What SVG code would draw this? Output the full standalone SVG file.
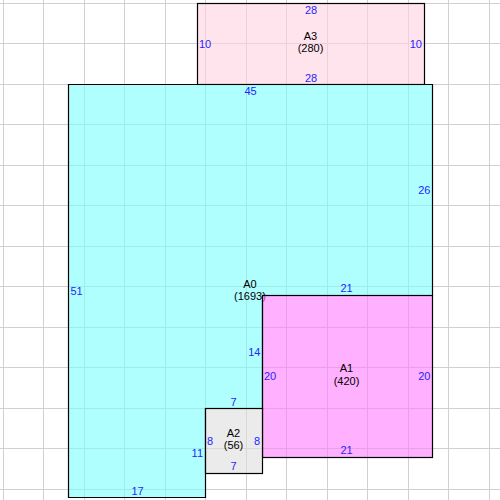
<svg xmlns="http://www.w3.org/2000/svg" width="500" height="500" viewBox="0 0 500 500">
<style>
.grid line{stroke:#d0d0d0;stroke-width:1}
.shape{stroke:#000;stroke-width:1.2;fill-opacity:0.6}
text{font-family:"Liberation Sans",Arial,sans-serif;font-size:11px}
.dim{fill:#2424ff}
.name{fill:#000;text-anchor:middle}
.c{text-anchor:middle}
.e{text-anchor:end}
</style>
<rect x="0" y="0" width="500" height="500" fill="#fff"/>
<g class="grid">
<line x1="3.5" y1="0" x2="3.5" y2="500"/><line x1="43.5" y1="0" x2="43.5" y2="500"/><line x1="84.5" y1="0" x2="84.5" y2="500"/><line x1="124.5" y1="0" x2="124.5" y2="500"/><line x1="165.5" y1="0" x2="165.5" y2="500"/><line x1="205.5" y1="0" x2="205.5" y2="500"/><line x1="246.5" y1="0" x2="246.5" y2="500"/><line x1="286.5" y1="0" x2="286.5" y2="500"/><line x1="327.5" y1="0" x2="327.5" y2="500"/><line x1="367.5" y1="0" x2="367.5" y2="500"/><line x1="408.5" y1="0" x2="408.5" y2="500"/><line x1="448.5" y1="0" x2="448.5" y2="500"/><line x1="489.5" y1="0" x2="489.5" y2="500"/>
<line x1="0" y1="3.5" x2="500" y2="3.5"/><line x1="0" y1="43.5" x2="500" y2="43.5"/><line x1="0" y1="84.5" x2="500" y2="84.5"/><line x1="0" y1="124.5" x2="500" y2="124.5"/><line x1="0" y1="165.5" x2="500" y2="165.5"/><line x1="0" y1="205.5" x2="500" y2="205.5"/><line x1="0" y1="246.5" x2="500" y2="246.5"/><line x1="0" y1="286.5" x2="500" y2="286.5"/><line x1="0" y1="327.5" x2="500" y2="327.5"/><line x1="0" y1="367.5" x2="500" y2="367.5"/><line x1="0" y1="408.5" x2="500" y2="408.5"/><line x1="0" y1="448.5" x2="500" y2="448.5"/><line x1="0" y1="489.5" x2="500" y2="489.5"/>
</g>
<g id="connectors"/>
<g id="A3">
<rect class="shape" x="197.5" y="3.5" width="227" height="81" fill="#ffd2e3"/>
<text class="dim c" x="311" y="14">28</text>
<text class="name" x="310.5" y="40">A3</text>
<text class="name" x="310.5" y="52">(280)</text>
<text class="dim c" x="311" y="82">28</text>
<text class="dim" x="199" y="48">10</text>
<text class="dim e" x="422" y="48">10</text>
</g>
<g id="A0">
<polygon class="shape" points="68.5,84.5 432.5,84.5 432.5,295.5 262.5,295.5 262.5,408.5 205.5,408.5 205.5,497.5 68.5,497.5" fill="#7bffff"/>
<text class="dim c" x="250.5" y="95">45</text>
<text class="dim e" x="430.5" y="194">26</text>
<text class="dim" x="70.5" y="295">51</text>
<text class="name" x="250" y="287.5">A0</text>
<text class="name" x="250" y="299.5">(1693)</text>
<text class="dim c" x="346.5" y="292">21</text>
<text class="dim e" x="260.5" y="356">14</text>
<text class="dim c" x="233.5" y="406">7</text>
<text class="dim e" x="203" y="457">11</text>
<text class="dim c" x="137.5" y="495">17</text>
</g>
<g id="A1">
<rect class="shape" x="262.5" y="295.5" width="170" height="162" fill="#ff7bff"/>
<text class="dim c" x="346.5" y="454">21</text>
<text class="dim" x="264" y="380">20</text>
<text class="dim e" x="430.5" y="380">20</text>
<text class="name" x="346.5" y="372">A1</text>
<text class="name" x="346.5" y="384.5">(420)</text>
</g>
<g id="A2">
<rect class="shape" x="205.5" y="408.5" width="57" height="65" fill="#dedede"/>
<text class="name" x="233.5" y="437">A2</text>
<text class="name" x="233.5" y="449">(56)</text>
<text class="dim" x="207" y="445">8</text>
<text class="dim e" x="260" y="445">8</text>
<text class="dim c" x="233.5" y="470">7</text>
</g>
</svg>
